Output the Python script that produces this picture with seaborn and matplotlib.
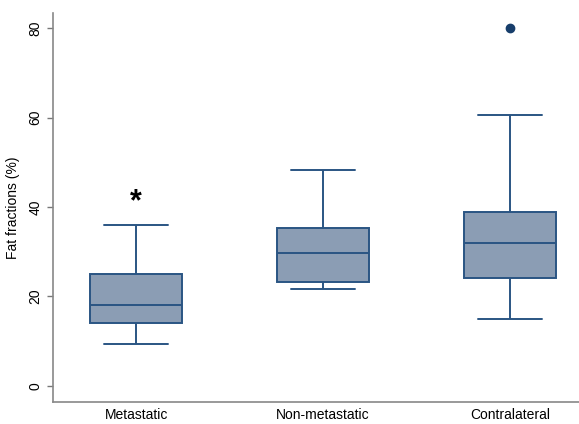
import pandas as pd
import seaborn as sns
import matplotlib.pyplot as plt

# values (min, Q1, median, Q3, max + outlier)
groups = ["Metastatic", "Non-metastatic", "Contralateral"]
metastatic = [9.4, 14.1, 18.1, 25.0, 36.0]
non_metastatic = [21.7, 23.2, 29.7, 35.3, 48.3]
contralateral = [15.0, 20.0, 24.1, 28.0, 32.0, 35.0, 38.9, 60.6, 80.0]

df = pd.DataFrame({
    "group": [groups[0]] * len(metastatic) + [groups[1]] * len(non_metastatic)
             + [groups[2]] * len(contralateral),
    "fat": metastatic + non_metastatic + contralateral,
})

sns.set_style("white")
plt.rcParams["font.family"] = ["Liberation Sans", "DejaVu Sans"]

edge = "#2a5583"
fig = plt.figure(figsize=(5.79, 4.24), dpi=100)
ax = fig.add_axes([53 / 579, 22 / 424, 1 - 53 / 579, 389 / 424])

sns.boxplot(data=df, x="group", y="fat", order=groups, ax=ax, width=0.49,
            color="#8b9db4", saturation=1, whis=1.5, linewidth=1.4,
            boxprops=dict(edgecolor=edge, facecolor="#8b9db4"),
            medianprops=dict(color=edge), whiskerprops=dict(color=edge),
            capprops=dict(color=edge),
            flierprops=dict(marker="o", markerfacecolor="#173e6b",
                            markeredgecolor="#173e6b", markersize=6))

# whisker caps a bit wider than matplotlib's default
for line in ax.lines:
    xd = list(line.get_xdata())
    yd = list(line.get_ydata())
    if len(xd) == 2 and yd[0] == yd[1] and abs(xd[1] - xd[0]) < 0.3:
        c = (xd[0] + xd[1]) / 2
        line.set_xdata([c - 0.17, c + 0.17])

ax.text(0, 41.0, "*", ha="center", va="center", fontsize=22,
        fontweight="bold", color="black")

ax.set_xlim(-0.445, 2.37)
ax.set_ylim(-3.6, 83.4)
ax.set_yticks([0, 20, 40, 60, 80])
ax.set_xlabel("")
ax.set_ylabel("Fat fractions (%)", fontsize=10, labelpad=6, color="black")
for lab in ax.get_yticklabels():
    lab.set_rotation(90)
    lab.set_va("center")
ax.tick_params(axis="y", length=4, width=1, color="#777777", labelsize=10,
               left=True, labelcolor="black")
ax.tick_params(axis="x", length=0, labelsize=10, pad=4, labelcolor="black")
for s in ["top", "right"]:
    ax.spines[s].set_visible(False)
for s in ["left", "bottom"]:
    ax.spines[s].set_color("#888888")
    ax.spines[s].set_linewidth(1.2)

fig.savefig("out.png", dpi=100)
